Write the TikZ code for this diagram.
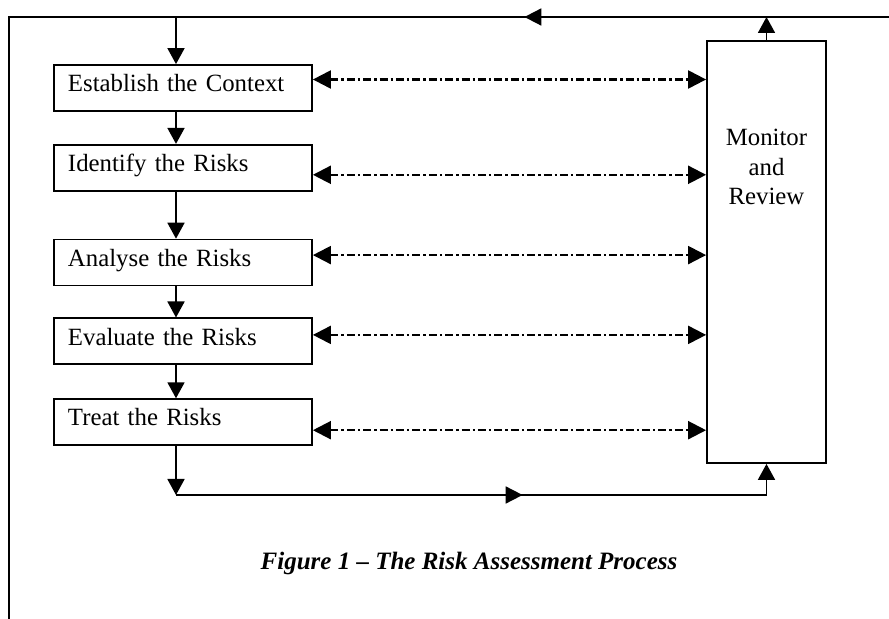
\documentclass[tikz,border=0pt]{standalone}
\usepackage{fontspec}
\setmainfont{Liberation Serif}
\usetikzlibrary{calc}
\usetikzlibrary{positioning}
\usetikzlibrary{arrows.meta}
\usetikzlibrary{decorations.markings}
\tikzstyle{stepbox} = [draw, line width=0.9pt, rectangle, minimum width=129pt, minimum height=23pt, text width=115pt, inner xsep=7pt, align=left, text height=1.5ex, text depth=0.7ex, font=\fontsize{12.4}{14.75}\selectfont]
\tikzstyle{monbox} = [draw, line width=0.9pt, rectangle, minimum width=59.5pt, minimum height=211pt]
\tikzstyle{montext} = [align=center, font=\fontsize{12.4}{14.75}\selectfont]
\tikzstyle{flow} = [line width=0.9pt, -{Triangle[length=8pt, width=8.5pt]}]
\tikzstyle{link} = [line width=1.1pt, dash pattern=on 4pt off 1.5pt on 1.2pt off 1.5pt, {Triangle[length=9pt, width=9pt]}-{Triangle[length=9pt, width=9pt]}]
\tikzset{midarrow/.style={line width=0.9pt, postaction={decorate}, decoration={markings, mark=at position #1 with {\arrow{Triangle[length=8.5pt, width=8.5pt]}}}}}

\begin{document}
\begin{tikzpicture}[x=0.5pt, y=-0.5pt]
  \useasboundingbox (0,0) rectangle (889,619);
  % outer frame
  \coordinate (tl) at (9,17);
  \coordinate (tr) at (889,17);
  \coordinate (bl) at (9,619);
  \coordinate (bot) at (9,495);
  \draw[line width=0.9pt] (tr) -- (tl) -- (bl);

  \node[stepbox] (est) at (183,88) {Establish the Context};
  \node[stepbox, below=16pt of est] (ide) {Identify the Risks};
  \node[stepbox, below=23.5pt of ide] (ana) {Analyse the Risks};
  \node[stepbox, below=15.5pt of ana] (eva) {Evaluate the Risks};
  \node[stepbox, below=16.5pt of eva] (trt) {Treat the Risks};
  \node[monbox] (mon) at (766.5,252) {};
  \node[montext] (mtext) at ([yshift=-63.5pt]mon.north) {Monitor\\and\\Review};
  \node[font=\fontsize{12.5}{15}\selectfont\bfseries\itshape] (cap) at (469,563) {Figure 1 -- The Risk Assessment Process};

  \coordinate (spine) at ([xshift=-3.5pt]est.north);
  \draw[flow] (spine |- est.south) -- (spine |- ide.north);
  \draw[flow] (spine |- ide.south) -- (spine |- ana.north);
  \draw[flow] (spine |- ana.south) -- (spine |- eva.north);
  \draw[flow] (spine |- eva.south) -- (spine |- trt.north);

  % links to monitor and review
  \coordinate (l1) at ([yshift=4.25pt]est.east);
  \coordinate (l2) at ([yshift=-3.5pt]ide.east);
  \coordinate (l3) at ([yshift=3.75pt]ana.east);
  \coordinate (l4) at ([yshift=3.25pt]eva.east);
  \coordinate (l5) at ([yshift=-4pt]trt.east);
  \draw[link] (l1) -- (l1 -| mon.west);
  \draw[link] (l2) -- (l2 -| mon.west);
  \draw[link] (l3) -- (l3 -| mon.west);
  \draw[link] (l4) -- (l4 -| mon.west);
  \draw[link] (l5) -- (l5 -| mon.west);

  % feedback loop
  \draw[flow] (mon.north) -- (mon.north |- tl);
  \draw[midarrow=0.41] (mon.north |- tl) -- (spine |- tl);
  \draw[flow] (spine |- tl) -- (spine);
  \draw[flow] (spine |- trt.south) -- (spine |- bot);
  \draw[midarrow=0.587] (spine |- bot) -- (mon.south |- bot);
  \draw[flow] (mon.south |- bot) -- (mon.south);
\end{tikzpicture}
\end{document}
